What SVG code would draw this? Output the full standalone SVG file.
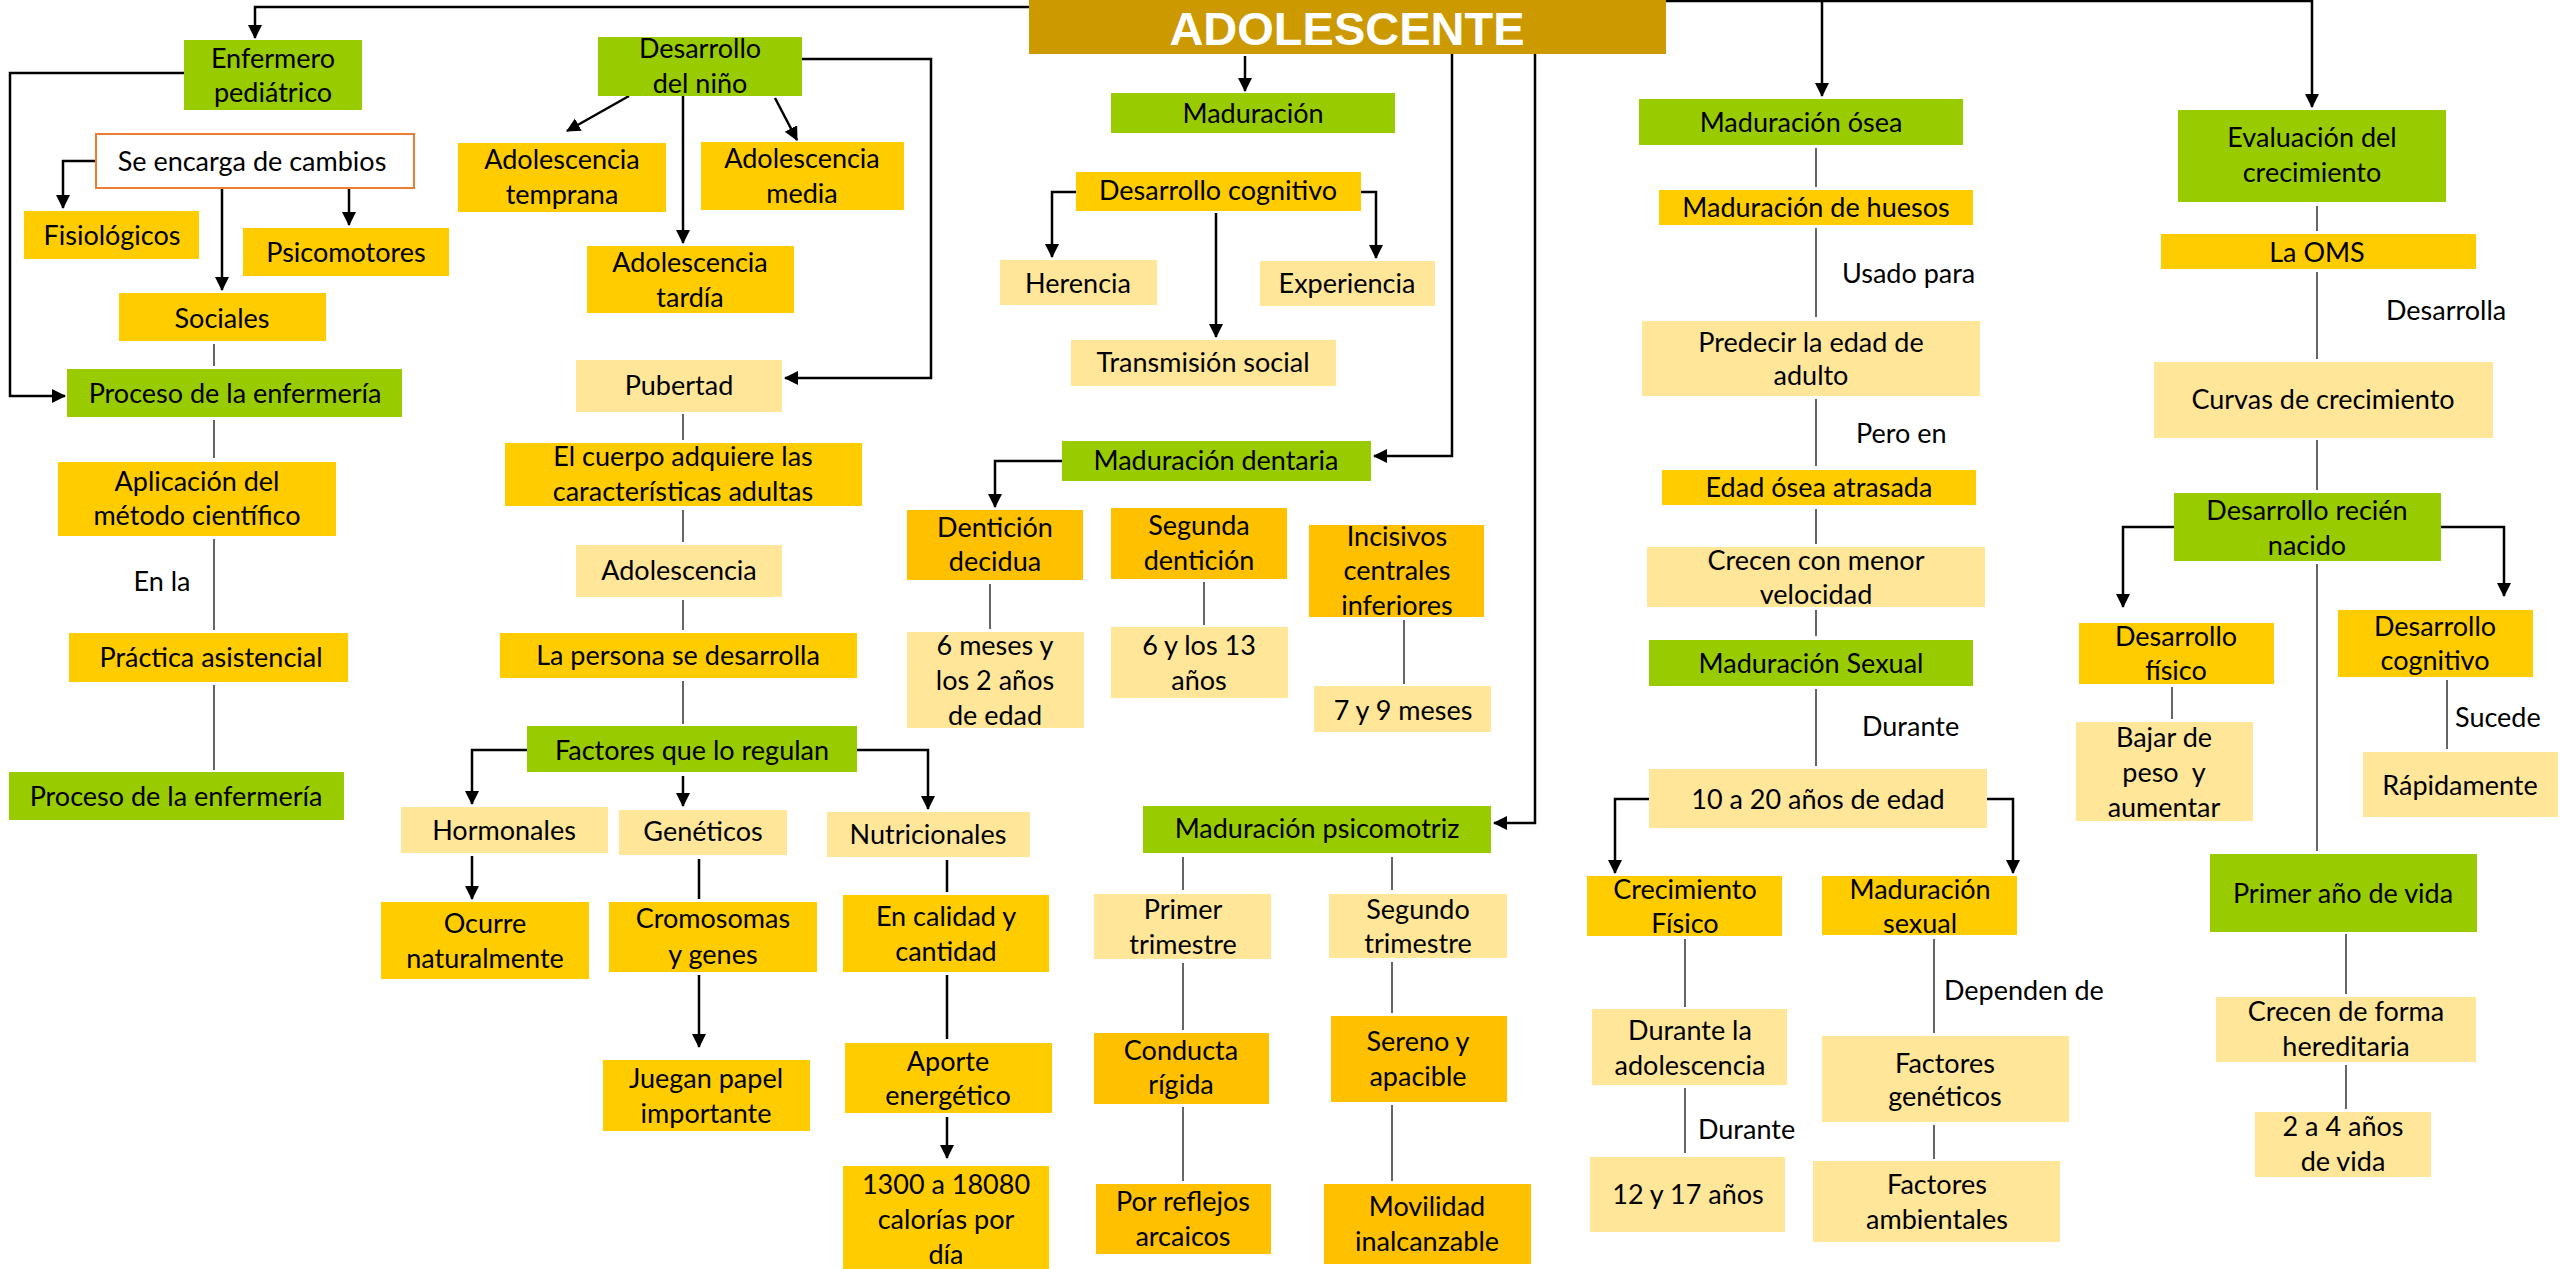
<svg xmlns="http://www.w3.org/2000/svg" width="2560" height="1269" viewBox="0 0 2560 1269">
<style>
.g{fill:#99CC00}.y{fill:#FFCC00}.o{fill:#FFC000}.l{fill:#FFE699}
.t{font-family:Lato,"Liberation Sans",sans-serif;font-size:27px;fill:#000;text-anchor:middle}
.lb{font-family:Lato,"Liberation Sans",sans-serif;font-size:27px;fill:#000}
.a{fill:none;stroke:#000;stroke-width:2.5;marker-end:url(#ah)}
.p{fill:none;stroke:#404040;stroke-width:1.6}
.pk{fill:none;stroke:#000;stroke-width:2.5}
</style>
<defs>
<marker id="ah" markerUnits="userSpaceOnUse" markerWidth="16" markerHeight="16" refX="13" refY="7" orient="auto">
<path d="M0,0 L14,7 L0,14 z" fill="#000"/>
</marker>
</defs>
<rect width="2560" height="1269" fill="#fff"/>
<g id="connectors">
<path class="a" d="M1029,7 H255 V38"/>
<path class="a" d="M184,73 H10 V396 H65"/>
<path class="a" d="M95,161 H63 V208"/>
<path class="a" d="M222,189 V290"/>
<path class="a" d="M349,189 V225"/>
<path class="a" d="M629,96 L567,131"/>
<path class="a" d="M775,98 L797,140"/>
<path class="a" d="M683,96 V243"/>
<path class="a" d="M802,59 H931 V378 H785"/>
<path class="a" d="M1245,56 V91"/>
<path class="a" d="M1076,192 H1052 V257"/>
<path class="a" d="M1216,213 V337"/>
<path class="a" d="M1361,192 H1376 V258"/>
<path class="a" d="M1452,54 V456 H1374"/>
<path class="a" d="M1535,54 V823 H1494"/>
<path class="a" d="M1062,461 H995 V507"/>
<path class="a" d="M1666,1 H2312 V107"/>
<path class="a" d="M1822,2 V96"/>
<path class="a" d="M527,750 H472 V804"/>
<path class="a" d="M683,776 V806"/>
<path class="a" d="M857,750 H928 V809"/>
<path class="a" d="M472,856 V899"/>
<path class="a" d="M699,975 V1047"/>
<path class="a" d="M947,1117 V1158"/>
<path class="a" d="M1649,799 H1615 V873"/>
<path class="a" d="M1987,799 H2013 V873"/>
<path class="a" d="M2174,527 H2123 V607"/>
<path class="a" d="M2441,527 H2504 V596"/>
<path class="p" d="M214,344 V366 M214,420 V458 M214,539 V630 M214,685 V770"/>
<path class="p" d="M683,414 V440 M683,510 V542 M683,600 V630 M683,681 V724"/>
<path class="pk" d="M699,859 V899 M947,860 V892 M947,975 V1039"/>
<path class="p" d="M990,584 V629 M1204,582 V625 M1404,620 V684"/>
<path class="p" d="M1183,857 V890 M1183,963 V1030 M1183,1107 V1181 M1392,857 V890 M1392,962 V1013 M1392,1105 V1181"/>
<path class="p" d="M1816,148 V187 M1816,228 V317 M1816,399 V466 M1816,509 V544 M1816,610 V636 M1816,689 V766"/>
<path class="p" d="M1685,939 V1007 M1685,1088 V1153 M1934,939 V1033 M1934,1125 V1159"/>
<path class="p" d="M2317,206 V231 M2317,272 V359 M2317,440 V490 M2317,564 V851 M2172,687 V719 M2447,680 V749 M2346,934 V994 M2346,1065 V1109"/>
</g>
<g id="labels">
<text class="t" x="162" y="591">En la</text>
<text class="lb" x="1842" y="283">Usado para</text>
<text class="lb" x="1856" y="443">Pero en</text>
<text class="lb" x="1862" y="736">Durante</text>
<text class="lb" x="1698" y="1139">Durante</text>
<text class="lb" x="1944" y="1000">Dependen de</text>
<text class="lb" x="2386" y="320">Desarrolla</text>
<text class="lb" x="2455" y="727">Sucede</text>
</g>
<g id="n-adolescente"><rect x="1029" y="0" width="637" height="54" fill="#CC9900"/><text x="1347" y="45" text-anchor="middle" font-family="'Liberation Sans',Arial,sans-serif" font-weight="bold" font-size="47" fill="#fff">ADOLESCENTE</text></g>
<g id="n-enfermero"><rect class="g" x="184" y="40" width="178" height="70"/><text class="t" x="273" y="68">Enfermero</text><text class="t" x="273" y="102">pediátrico</text></g>
<g id="n-encarga"><rect x="96" y="134" width="318" height="54" fill="#fff" stroke="#ED7D31" stroke-width="2"/><text class="t" x="252" y="171">Se encarga de cambios</text></g>
<g id="n-fisiologicos"><rect class="y" x="24" y="211" width="175" height="48"/><text class="t" x="112" y="245">Fisiológicos</text></g>
<g id="n-psicomotores"><rect class="y" x="243" y="228" width="206" height="48"/><text class="t" x="346" y="262">Psicomotores</text></g>
<g id="n-sociales"><rect class="y" x="119" y="293" width="207" height="48"/><text class="t" x="222" y="328">Sociales</text></g>
<g id="n-proceso1"><rect class="g" x="67" y="369" width="335" height="48"/><text class="t" x="235" y="403">Proceso de la enfermería</text></g>
<g id="n-aplicacion"><rect class="y" x="58" y="462" width="278" height="74"/><text class="t" x="197" y="491">Aplicación del</text><text class="t" x="197" y="525">método científico</text></g>
<g id="n-practica"><rect class="y" x="69" y="633" width="279" height="49"/><text class="t" x="211" y="667">Práctica asistencial</text></g>
<g id="n-proceso2"><rect class="g" x="9" y="772" width="335" height="48"/><text class="t" x="176" y="806">Proceso de la enfermería</text></g>
<g id="n-desarrollo-nino"><rect class="g" x="598" y="37" width="204" height="59"/><text class="t" x="700" y="58">Desarrollo</text><text class="t" x="700" y="93">del niño</text></g>
<g id="n-temprana"><rect class="y" x="458" y="143" width="208" height="69"/><text class="t" x="562" y="169">Adolescencia</text><text class="t" x="562" y="204">temprana</text></g>
<g id="n-media"><rect class="y" x="701" y="142" width="203" height="68"/><text class="t" x="802" y="168">Adolescencia</text><text class="t" x="802" y="203">media</text></g>
<g id="n-tardia"><rect class="y" x="587" y="246" width="207" height="67"/><text class="t" x="690" y="272">Adolescencia</text><text class="t" x="690" y="307">tardía</text></g>
<g id="n-pubertad"><rect class="l" x="576" y="360" width="206" height="52"/><text class="t" x="679" y="395">Pubertad</text></g>
<g id="n-cuerpo"><rect class="y" x="505" y="443" width="357" height="63"/><text class="t" x="683" y="466">El cuerpo adquiere las</text><text class="t" x="683" y="501">características adultas</text></g>
<g id="n-adolescencia"><rect class="l" x="576" y="545" width="206" height="52"/><text class="t" x="679" y="580">Adolescencia</text></g>
<g id="n-persona"><rect class="y" x="500" y="633" width="357" height="45"/><text class="t" x="678" y="665">La persona se desarrolla</text></g>
<g id="n-factores"><rect class="g" x="527" y="726" width="330" height="46"/><text class="t" x="692" y="760">Factores que lo regulan</text></g>
<g id="n-hormonales"><rect class="l" x="401" y="807" width="207" height="46"/><text class="t" x="504" y="840">Hormonales</text></g>
<g id="n-geneticos"><rect class="l" x="619" y="810" width="168" height="45"/><text class="t" x="703" y="841">Genéticos</text></g>
<g id="n-nutricionales"><rect class="l" x="827" y="812" width="203" height="45"/><text class="t" x="928" y="844">Nutricionales</text></g>
<g id="n-ocurre"><rect class="y" x="381" y="902" width="208" height="77"/><text class="t" x="485" y="933">Ocurre</text><text class="t" x="485" y="968">naturalmente</text></g>
<g id="n-cromosomas"><rect class="y" x="609" y="902" width="208" height="70"/><text class="t" x="713" y="928">Cromosomas</text><text class="t" x="713" y="964">y genes</text></g>
<g id="n-juegan"><rect class="y" x="603" y="1060" width="207" height="71"/><text class="t" x="706" y="1088">Juegan papel</text><text class="t" x="706" y="1123">importante</text></g>
<g id="n-calidad"><rect class="y" x="843" y="895" width="206" height="77"/><text class="t" x="946" y="926">En calidad y</text><text class="t" x="946" y="961">cantidad</text></g>
<g id="n-aporte"><rect class="y" x="845" y="1043" width="207" height="70"/><text class="t" x="948" y="1071">Aporte</text><text class="t" x="948" y="1105">energético</text></g>
<g id="n-calorias"><rect class="y" x="843" y="1166" width="206" height="103"/><text class="t" x="946" y="1194">1300 a 18080</text><text class="t" x="946" y="1229">calorías por</text><text class="t" x="946" y="1264">día</text></g>
<g id="n-maduracion"><rect class="g" x="1111" y="93" width="284" height="40"/><text class="t" x="1253" y="123">Maduración</text></g>
<g id="n-cognitivo"><rect class="y" x="1076" y="172" width="285" height="39"/><text class="t" x="1218" y="200">Desarrollo cognitivo</text></g>
<g id="n-herencia"><rect class="l" x="1000" y="260" width="157" height="45"/><text class="t" x="1078" y="293">Herencia</text></g>
<g id="n-experiencia"><rect class="l" x="1260" y="261" width="175" height="45"/><text class="t" x="1347" y="293">Experiencia</text></g>
<g id="n-transmision"><rect class="l" x="1071" y="340" width="265" height="46"/><text class="t" x="1203" y="372">Transmisión social</text></g>
<g id="n-dentaria"><rect class="g" x="1062" y="441" width="309" height="40"/><text class="t" x="1216" y="470">Maduración dentaria</text></g>
<g id="n-decidua"><rect class="o" x="907" y="510" width="176" height="70"/><text class="t" x="995" y="537">Dentición</text><text class="t" x="995" y="571">decidua</text></g>
<g id="n-segunda"><rect class="o" x="1111" y="508" width="176" height="71"/><text class="t" x="1199" y="535">Segunda</text><text class="t" x="1199" y="570">dentición</text></g>
<g id="n-meses"><rect class="l" x="907" y="632" width="177" height="96"/><text class="t" x="995" y="655">6 meses y</text><text class="t" x="995" y="690">los 2 años</text><text class="t" x="995" y="725">de edad</text></g>
<g id="n-trece"><rect class="l" x="1111" y="627" width="177" height="71"/><text class="t" x="1199" y="655">6 y los 13</text><text class="t" x="1199" y="690">años</text></g>
<g id="n-incisivos"><rect class="o" x="1309" y="525" width="175" height="92"/><text class="t" x="1397" y="546">Incisivos</text><text class="t" x="1397" y="580">centrales</text><text class="t" x="1397" y="615">inferiores</text></g>
<g id="n-siete"><rect class="l" x="1314" y="686" width="177" height="46"/><text class="t" x="1403" y="720">7 y 9 meses</text></g>
<g id="n-psicomotriz"><rect class="g" x="1143" y="806" width="348" height="47"/><text class="t" x="1317" y="838">Maduración psicomotriz</text></g>
<g id="n-primer-tri"><rect class="l" x="1094" y="894" width="177" height="65"/><text class="t" x="1183" y="919">Primer</text><text class="t" x="1183" y="954">trimestre</text></g>
<g id="n-segundo-tri"><rect class="l" x="1329" y="894" width="178" height="64"/><text class="t" x="1418" y="919">Segundo</text><text class="t" x="1418" y="953">trimestre</text></g>
<g id="n-conducta"><rect class="o" x="1094" y="1033" width="175" height="71"/><text class="t" x="1181" y="1060">Conducta</text><text class="t" x="1181" y="1094">rígida</text></g>
<g id="n-sereno"><rect class="o" x="1331" y="1016" width="176" height="86"/><text class="t" x="1418" y="1051">Sereno y</text><text class="t" x="1418" y="1086">apacible</text></g>
<g id="n-reflejos"><rect class="o" x="1096" y="1184" width="175" height="70"/><text class="t" x="1183" y="1211">Por reflejos</text><text class="t" x="1183" y="1246">arcaicos</text></g>
<g id="n-movilidad"><rect class="o" x="1324" y="1184" width="207" height="80"/><text class="t" x="1427" y="1216">Movilidad</text><text class="t" x="1427" y="1251">inalcanzable</text></g>
<g id="n-osea"><rect class="g" x="1639" y="99" width="324" height="46"/><text class="t" x="1801" y="132">Maduración ósea</text></g>
<g id="n-huesos"><rect class="y" x="1659" y="190" width="314" height="35"/><text class="t" x="1816" y="217">Maduración de huesos</text></g>
<g id="n-predecir"><rect class="l" x="1642" y="321" width="338" height="75"/><text class="t" x="1811" y="352">Predecir la edad de</text><text class="t" x="1811" y="385">adulto</text></g>
<g id="n-atrasada"><rect class="y" x="1662" y="470" width="314" height="35"/><text class="t" x="1819" y="497">Edad ósea atrasada</text></g>
<g id="n-menor"><rect class="l" x="1647" y="547" width="338" height="60"/><text class="t" x="1816" y="570">Crecen con menor</text><text class="t" x="1816" y="604">velocidad</text></g>
<g id="n-sexual"><rect class="g" x="1649" y="640" width="324" height="46"/><text class="t" x="1811" y="673">Maduración Sexual</text></g>
<g id="n-diez"><rect class="l" x="1649" y="769" width="338" height="59"/><text class="t" x="1818" y="809">10 a 20 años de edad</text></g>
<g id="n-crecimiento-fisico"><rect class="y" x="1587" y="876" width="195" height="60"/><text class="t" x="1685" y="899">Crecimiento</text><text class="t" x="1685" y="933">Físico</text></g>
<g id="n-mad-sexual"><rect class="y" x="1822" y="876" width="195" height="59"/><text class="t" x="1920" y="899">Maduración</text><text class="t" x="1920" y="933">sexual</text></g>
<g id="n-durante-adol"><rect class="l" x="1592" y="1009" width="195" height="76"/><text class="t" x="1690" y="1040">Durante la</text><text class="t" x="1690" y="1075">adolescencia</text></g>
<g id="n-doce"><rect class="l" x="1590" y="1157" width="195" height="75"/><text class="t" x="1688" y="1204">12 y 17 años</text></g>
<g id="n-fgeneticos"><rect class="l" x="1822" y="1036" width="247" height="86"/><text class="t" x="1945" y="1073">Factores</text><text class="t" x="1945" y="1106">genéticos</text></g>
<g id="n-fambientales"><rect class="l" x="1813" y="1161" width="247" height="81"/><text class="t" x="1937" y="1194">Factores</text><text class="t" x="1937" y="1229">ambientales</text></g>
<g id="n-evaluacion"><rect class="g" x="2178" y="110" width="268" height="92"/><text class="t" x="2312" y="147">Evaluación del</text><text class="t" x="2312" y="182">crecimiento</text></g>
<g id="n-oms"><rect class="y" x="2161" y="234" width="315" height="35"/><text class="t" x="2317" y="262">La OMS</text></g>
<g id="n-curvas"><rect class="l" x="2154" y="362" width="339" height="76"/><text class="t" x="2323" y="409">Curvas de crecimiento</text></g>
<g id="n-recien"><rect class="g" x="2174" y="493" width="267" height="68"/><text class="t" x="2307" y="520">Desarrollo recién</text><text class="t" x="2307" y="555">nacido</text></g>
<g id="n-dfisico"><rect class="y" x="2079" y="623" width="195" height="61"/><text class="t" x="2176" y="646">Desarrollo</text><text class="t" x="2176" y="680">físico</text></g>
<g id="n-bajar"><rect class="l" x="2076" y="722" width="177" height="99"/><text class="t" x="2164" y="747">Bajar de</text><text class="t" x="2164" y="782" xml:space="preserve">peso  y</text><text class="t" x="2164" y="817">aumentar</text></g>
<g id="n-dcognitivo"><rect class="y" x="2338" y="610" width="195" height="67"/><text class="t" x="2435" y="636">Desarrollo</text><text class="t" x="2435" y="670">cognitivo</text></g>
<g id="n-rapidamente"><rect class="l" x="2363" y="752" width="195" height="65"/><text class="t" x="2460" y="795">Rápidamente</text></g>
<g id="n-primer-anio"><rect class="g" x="2210" y="854" width="267" height="78"/><text class="t" x="2343" y="903">Primer año de vida</text></g>
<g id="n-hereditaria"><rect class="l" x="2216" y="997" width="260" height="65"/><text class="t" x="2346" y="1021">Crecen de forma</text><text class="t" x="2346" y="1056">hereditaria</text></g>
<g id="n-dos-cuatro"><rect class="l" x="2255" y="1112" width="176" height="65"/><text class="t" x="2343" y="1136">2 a 4 años</text><text class="t" x="2343" y="1171">de vida</text></g>
</svg>
